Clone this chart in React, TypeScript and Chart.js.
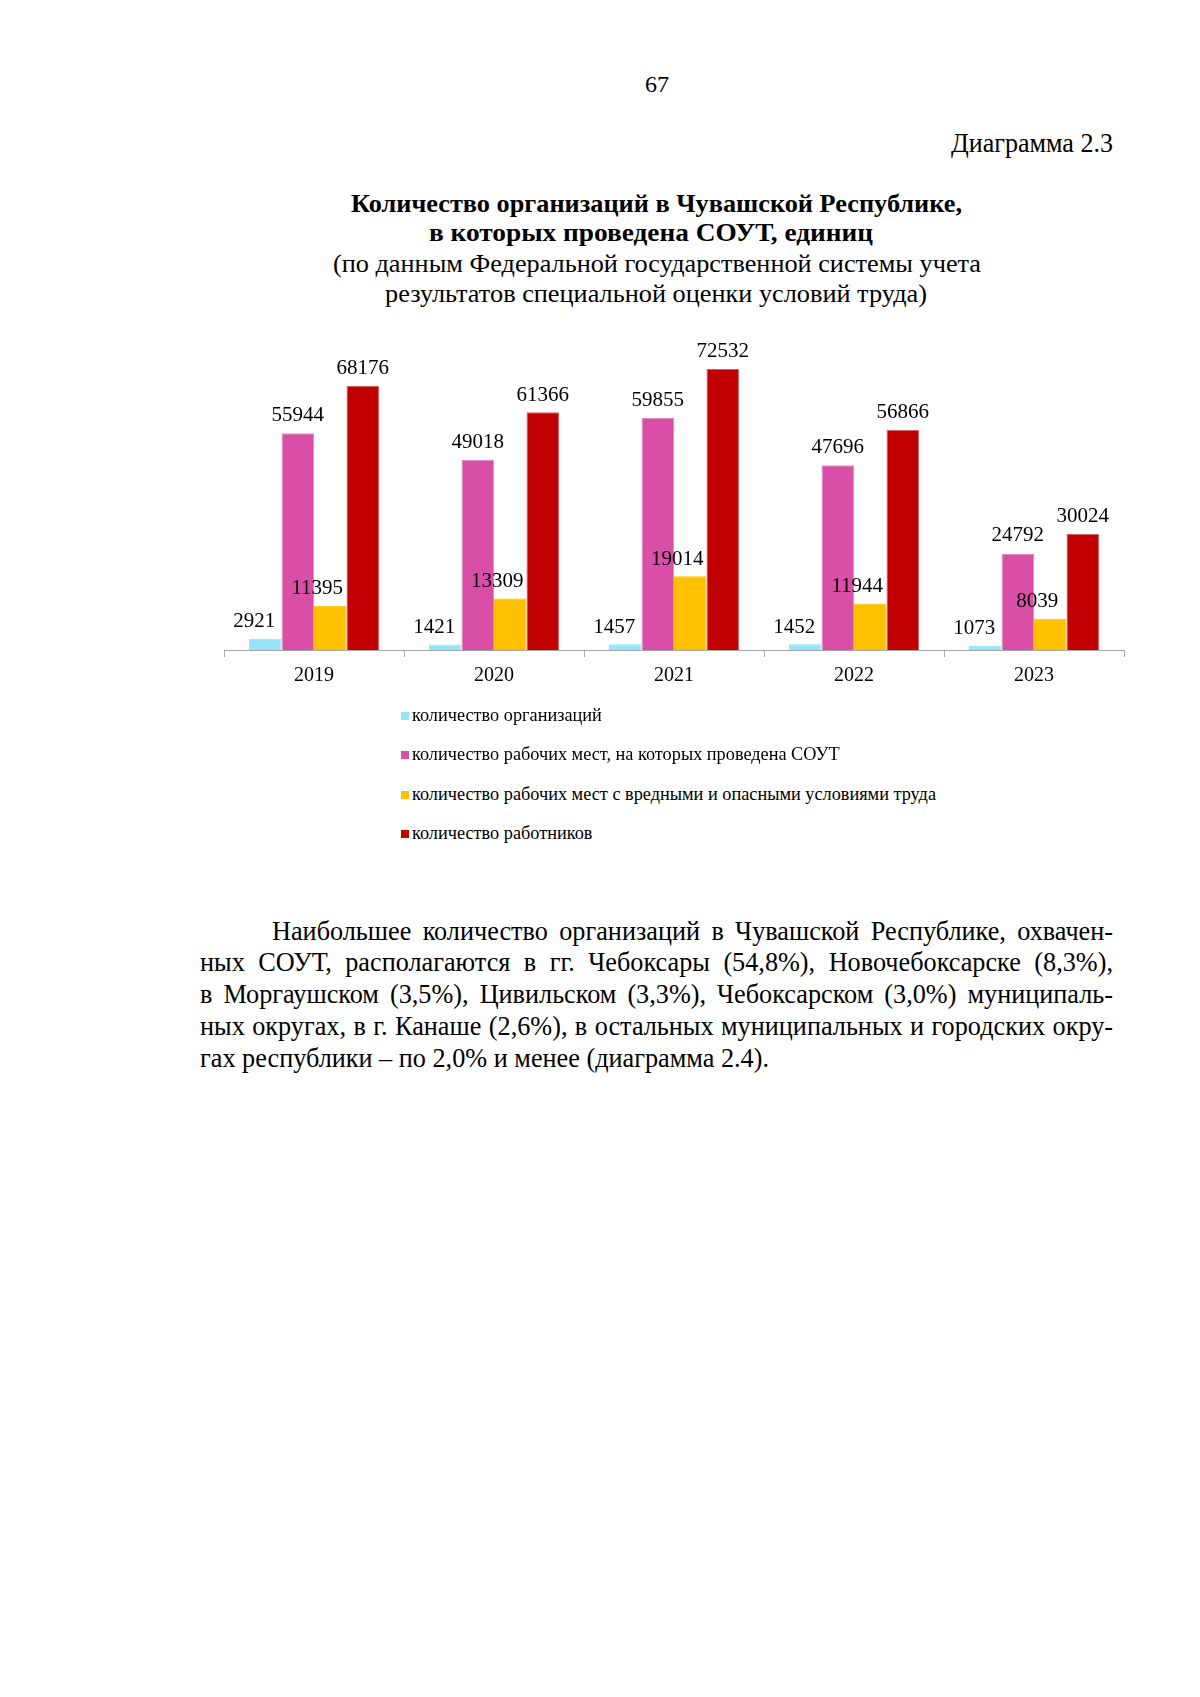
import React, { useEffect, useRef } from 'react';
import { Chart, registerables } from 'chart.js';

Chart.register(...registerables);

const FONT = "'Liberation Serif', 'Times New Roman', serif";

// ---- data ----
const years = ['2019', '2020', '2021', '2022', '2023'];
const orgCount = [2921, 1421, 1457, 1452, 1073];
const workplacesSout = [55944, 49018, 59855, 47696, 24792];
const harmfulWorkplaces = [11395, 13309, 19014, 11944, 8039];
const workers = [68176, 61366, 72532, 56866, 30024];
const seriesLabels = [
  'количество организаций',
  'количество рабочих мест, на которых проведена СОУТ',
  'количество рабочих мест с вредными и опасными условиями труда',
  'количество работников',
];
const seriesValues = [orgCount, workplacesSout, harmfulWorkplaces, workers];
const seriesColors = ['#97E4F9', '#D94FA8', '#FFC000', '#C00000'];
const seriesBorders = ['#97E4F9', '#E68BC4', '#FFC000', '#D46060'];
const yMax = 80000;

const titleLines = [
  'Количество организаций в Чувашской Республике,',
  'в которых проведена СОУТ, единиц',
];
const subtitleLines = [
  '(по данным Федеральной государственной системы учета',
  'результатов специальной оценки условий труда)',
];
const paragraphLines = [
  'Наибольшее количество организаций в Чувашской Республике, охвачен-',
  'ных СОУТ, располагаются в гг. Чебоксары (54,8%), Новочебоксарске (8,3%),',
  'в Моргаушском (3,5%), Цивильском (3,3%), Чебоксарском (3,0%) муниципаль-',
  'ных округах, в г. Канаше (2,6%), в остальных муниципальных и городских окру-',
  'гах республики – по 2,0% и менее (диаграмма 2.4).',
];

// ---- text helpers ----
let measureCtx: CanvasRenderingContext2D | null = null;
function textWidth(text: string, font: string): number {
  if (!measureCtx) measureCtx = document.createElement('canvas').getContext('2d');
  measureCtx!.font = font;
  return measureCtx!.measureText(text).width;
}
function fontStr(size: number, bold?: boolean) {
  return `${bold ? 'bold ' : ''}${size}px ${FONT}`;
}

type LineProps = {
  text: string;
  size: number;
  bold?: boolean;
  y: number;
  left: number;
  width: number;
  justifyScale?: number;
};

function TextLine({ text, size, bold, y, left, width, justifyScale }: LineProps) {
  const natural = textWidth(text, fontStr(size, bold));
  let sx = width / natural;
  let ws = 0;
  if (justifyScale) {
    sx = justifyScale;
    const spaces = (text.match(/ /g) || []).length;
    if (spaces > 0) ws = (width / sx - natural) / spaces;
  }
  return (
    <div
      style={{
        position: 'absolute',
        left,
        top: y - size * 0.575,
        fontFamily: FONT,
        fontSize: size,
        fontWeight: bold ? 'bold' : 'normal',
        lineHeight: `${size * 1.15}px`,
        whiteSpace: 'pre',
        wordSpacing: ws,
        color: '#000',
        transform: `scaleX(${sx})`,
        transformOrigin: 'left center',
      }}
    >
      {text}
    </div>
  );
}

// ---- chart ----
const labelDx = [-11, 0, -13, 0];
const labelDy = [17, 18, 17, 17];

const valueLabelPlugin = {
  id: 'valueLabels',
  afterDatasetsDraw(chart: any) {
    const ctx = chart.ctx;
    ctx.save();
    ctx.font = `21px ${FONT}`;
    ctx.fillStyle = '#000';
    ctx.textAlign = 'center';
    ctx.textBaseline = 'middle';
    chart.data.datasets.forEach((ds: any, i: number) => {
      const meta = chart.getDatasetMeta(i);
      meta.data.forEach((bar: any, j: number) => {
        ctx.fillText(String(ds.data[j]), bar.x + labelDx[i], bar.y - labelDy[i]);
      });
    });
    ctx.restore();
  },
};

function BarChart() {
  const ref = useRef<HTMLCanvasElement>(null);
  useEffect(() => {
    if (!ref.current) return;
    const chart = new Chart(ref.current, {
      type: 'bar',
      data: {
        labels: years,
        datasets: seriesLabels.map((label, i) => ({
          label,
          data: seriesValues[i],
          backgroundColor: seriesColors[i],
          borderColor: seriesBorders[i],
          borderWidth: 1,
          categoryPercentage: 0.722,
          barPercentage: 1.0,
        })),
      },
      options: {
        animation: false,
        responsive: false,
        devicePixelRatio: 1,
        layout: { padding: { left: 74, right: 26, top: 40, bottom: 0 } },
        plugins: {
          legend: { display: false },
          tooltip: { enabled: false },
          title: { display: false },
        },
        scales: {
          x: {
            grid: {
              display: true,
              drawOnChartArea: false,
              drawTicks: true,
              tickLength: 7,
              color: '#A6A6A6',
              offset: true,
            },
            border: { display: true, color: '#A6A6A6', width: 1 },
            ticks: { color: '#000', font: { family: FONT, size: 20 }, padding: 7 },
            afterFit: (s: any) => {
              s.height = 70;
            },
          },
          y: { display: false, min: 0, max: yMax },
        },
      },
      plugins: [valueLabelPlugin],
    } as any);
    return () => chart.destroy();
  }, []);
  return (
    <canvas
      ref={ref}
      width={1000}
      height={420}
      style={{ position: 'absolute', left: 150, top: 300, width: 1000, height: 420 }}
    />
  );
}

function Legend() {
  const size = 19;
  const longest = textWidth(seriesLabels[2], fontStr(size));
  const sx = 524 / longest;
  const rows = [715, 754, 794, 833];
  return (
    <>
      {seriesLabels.map((label, i) => (
        <React.Fragment key={label}>
          <div
            style={{
              position: 'absolute',
              left: 401,
              top: rows[i] - 3,
              width: 8,
              height: 8,
              background: seriesColors[i],
            }}
          />
          <div
            style={{
              position: 'absolute',
              left: 412,
              top: rows[i] - size * 0.575,
              fontFamily: FONT,
              fontSize: size,
              lineHeight: `${size * 1.15}px`,
              whiteSpace: 'pre',
              transform: `scaleX(${sx})`,
              transformOrigin: 'left center',
              color: '#000',
            }}
          >
            {label}
          </div>
        </React.Fragment>
      ))}
    </>
  );
}

export default function App() {
  const pSize = 28;
  const pScale = 569 / textWidth(paragraphLines[4], fontStr(pSize));
  const pY = [931, 962, 994, 1026, 1058];
  return (
    <div
      style={{
        position: 'absolute',
        left: 0,
        top: 0,
        width: 1200,
        height: 1697,
        background: '#fff',
        overflow: 'hidden',
      }}
    >
      <TextLine text="67" size={24} y={85} left={657 - 12} width={24} />
      <TextLine text="Диаграмма 2.3" size={28} y={143} left={1113 - 162} width={162} />

      <TextLine text={titleLines[0]} size={26} bold y={204} left={656 - 611 / 2} width={611} />
      <TextLine text={titleLines[1]} size={26} bold y={233} left={651 - 444 / 2} width={444} />
      <TextLine text={subtitleLines[0]} size={26} y={264} left={657 - 648 / 2} width={648} />
      <TextLine text={subtitleLines[1]} size={26} y={294} left={656 - 542 / 2} width={542} />

      <BarChart />
      <Legend />

      {paragraphLines.map((line, i) => {
        const left = i === 0 ? 272 : 200;
        if (i === paragraphLines.length - 1) {
          return <TextLine key={i} text={line} size={pSize} y={pY[i]} left={left} width={569} />;
        }
        return (
          <TextLine
            key={i}
            text={line}
            size={pSize}
            y={pY[i]}
            left={left}
            width={1113 - left}
            justifyScale={pScale}
          />
        );
      })}
    </div>
  );
}
